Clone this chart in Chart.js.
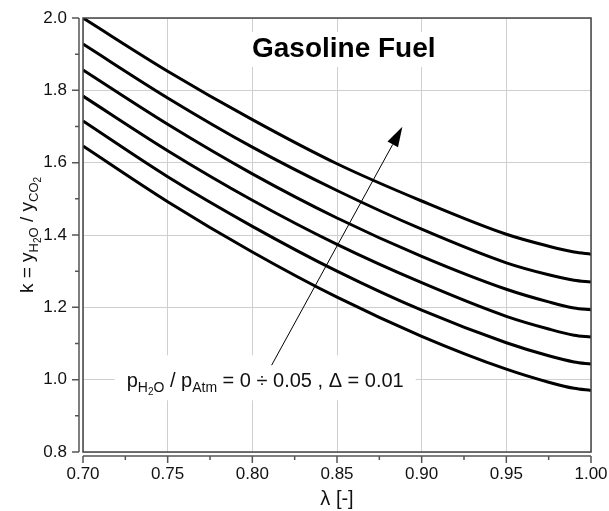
<!DOCTYPE html>
<html>
<head>
<meta charset="utf-8">
<script src="https://cdn.jsdelivr.net/npm/chart.js@4/dist/chart.umd.min.js"></script>
<style>
  html, body { margin: 0; background: #fff; }
  #wrap { width: 609px; height: 511px; position: relative; }
</style>
</head>
<body>
<div id="wrap"><canvas id="chart"></canvas></div>
<script>
const LAMBDA = [0.70, 0.75, 0.80, 0.85, 0.90, 0.95, 0.975, 0.99, 1.00];

// k = yH2O / yCO2 for pH2O/pAtm = 0 ... 0.05
const K_P000 = [1.646, 1.492, 1.353, 1.228, 1.120, 1.029, 0.993, 0.976, 0.970];
const K_P001 = [1.715, 1.561, 1.424, 1.300, 1.192, 1.102, 1.066, 1.049, 1.043];
const K_P002 = [1.784, 1.633, 1.496, 1.374, 1.268, 1.175, 1.140, 1.123, 1.118];
const K_P003 = [1.856, 1.706, 1.569, 1.447, 1.341, 1.250, 1.215, 1.198, 1.193];
const K_P004 = [1.928, 1.779, 1.643, 1.523, 1.416, 1.323, 1.290, 1.275, 1.270];
const K_P005 = [2.000, 1.853, 1.719, 1.597, 1.494, 1.402, 1.369, 1.353, 1.347];

const X_TICKS = [0.70, 0.75, 0.80, 0.85, 0.90, 0.95, 1.00];
const Y_TICKS = [0.8, 1.0, 1.2, 1.4, 1.6, 1.8, 2.0];

const FONT = "'Liberation Sans', Arial, sans-serif";

const series = [K_P000, K_P001, K_P002, K_P003, K_P004, K_P005];
const datasets = series.map(vals => ({
  data: LAMBDA.map((x, i) => ({ x, y: vals[i] })),
  borderColor: '#000',
  borderWidth: 3,
  pointRadius: 0,
  fill: false,
  cubicInterpolationMode: 'monotone',
}));

// text runs with sub/subsub scripts
function richWidth(ctx, parts) {
  let w = 0;
  parts.forEach(p => {
    ctx.font = `${p.s}px ${FONT}`;
    w += ctx.measureText(p.t).width;
  });
  return w;
}
function drawRich(ctx, parts, x, y) {
  let cx = x;
  parts.forEach(p => {
    ctx.font = `${p.s}px ${FONT}`;
    ctx.fillText(p.t, cx, y + (p.dy || 0));
    cx += ctx.measureText(p.t).width;
  });
}

const LABEL_PARTS = [
  { t: 'p', s: 20 }, { t: 'H', s: 14, dy: 5 }, { t: '2', s: 10, dy: 8 }, { t: 'O', s: 14, dy: 5 },
  { t: ' / p', s: 20 }, { t: 'Atm', s: 14, dy: 5 },
  { t: ' = 0 \u00f7 0.05 , \u0394 = 0.01', s: 20 },
];
const YTITLE_PARTS = [
  { t: 'k = y', s: 19 }, { t: 'H', s: 13, dy: 5 }, { t: '2', s: 10, dy: 8 }, { t: 'O', s: 13, dy: 5 },
  { t: ' / y', s: 19 }, { t: 'CO', s: 13, dy: 5 }, { t: '2', s: 10, dy: 8 },
];

const TITLE_FONT = `bold 28px ${FONT}`;

const decor = {
  id: 'decor',
  beforeDatasetsDraw(chart) {
    const { ctx } = chart;
    const xs = chart.scales.x, ys = chart.scales.y;
    ctx.save();
    ctx.fillStyle = '#fff';
    // box behind the title
    ctx.font = TITLE_FONT;
    const tw = ctx.measureText('Gasoline Fuel').width;
    const tx = xs.getPixelForValue(0.854), ty = ys.getPixelForValue(1.892);
    ctx.fillRect(tx - tw / 2 - 6, ty - 25, tw + 12, 35);
    // box behind the parameter label
    const lx = xs.getPixelForValue(0.7258), ly = ys.getPixelForValue(0.979);
    const lw = richWidth(ctx, LABEL_PARTS);
    ctx.fillRect(lx - 12, ly - 32, lw + 24, 45);
    ctx.restore();
  },
  afterDatasetsDraw(chart) {
    const { ctx, chartArea: a } = chart;
    const xs = chart.scales.x, ys = chart.scales.y;
    ctx.save();
    // plot frame
    ctx.strokeStyle = '#444';
    ctx.lineWidth = 1.5;
    ctx.strokeRect(a.left, a.top, a.right - a.left, a.bottom - a.top);

    // detached axis lines with ticks
    const axX = a.left - 4, axY = a.bottom + 4;
    ctx.strokeStyle = '#555';
    ctx.lineWidth = 1.5;
    ctx.beginPath();
    ctx.moveTo(axX, a.top); ctx.lineTo(axX, a.bottom);
    ctx.moveTo(a.left, axY); ctx.lineTo(a.right, axY);
    Y_TICKS.forEach((v, i) => {
      const py = ys.getPixelForValue(v);
      ctx.moveTo(axX, py); ctx.lineTo(axX - 7, py);
      if (i < Y_TICKS.length - 1) {
        const my = ys.getPixelForValue((v + Y_TICKS[i + 1]) / 2);
        ctx.moveTo(axX, my); ctx.lineTo(axX - 4, my);
      }
    });
    X_TICKS.forEach((v, i) => {
      const px = xs.getPixelForValue(v);
      ctx.moveTo(px, axY); ctx.lineTo(px, axY + 7);
      if (i < X_TICKS.length - 1) {
        const mx = xs.getPixelForValue((v + X_TICKS[i + 1]) / 2);
        ctx.moveTo(mx, axY); ctx.lineTo(mx, axY + 4);
      }
    });
    ctx.stroke();

    // arrow
    const x0 = xs.getPixelForValue(0.8114), y0 = ys.getPixelForValue(1.04);
    const x1 = xs.getPixelForValue(0.8886), y1 = ys.getPixelForValue(1.699);
    const ang = Math.atan2(y1 - y0, x1 - x0);
    const hl = 20, hw = 6;
    const bx = x1 - hl * Math.cos(ang), by = y1 - hl * Math.sin(ang);
    ctx.strokeStyle = '#000';
    ctx.lineWidth = 1;
    ctx.beginPath();
    ctx.moveTo(x0, y0); ctx.lineTo(bx, by);
    ctx.stroke();
    ctx.fillStyle = '#000';
    ctx.beginPath();
    ctx.moveTo(x1, y1);
    ctx.lineTo(bx - hw * Math.sin(ang), by + hw * Math.cos(ang));
    ctx.lineTo(bx + hw * Math.sin(ang), by - hw * Math.cos(ang));
    ctx.closePath();
    ctx.fill();

    // title
    ctx.fillStyle = '#000';
    ctx.textAlign = 'center';
    ctx.textBaseline = 'alphabetic';
    ctx.font = TITLE_FONT;
    ctx.fillText('Gasoline Fuel', xs.getPixelForValue(0.854), ys.getPixelForValue(1.892));

    // parameter label
    ctx.textAlign = 'left';
    ctx.fillStyle = '#111';
    drawRich(ctx, LABEL_PARTS, xs.getPixelForValue(0.7258), ys.getPixelForValue(0.979));

    // y axis title (rotated)
    const yw = richWidth(ctx, YTITLE_PARTS);
    ctx.save();
    ctx.translate(33, (a.top + a.bottom) / 2);
    ctx.rotate(-Math.PI / 2);
    drawRich(ctx, YTITLE_PARTS, -yw / 2, 0);
    ctx.restore();

    // x axis title
    ctx.textAlign = 'center';
    ctx.font = `20px ${FONT}`;
    ctx.fillText('\u03bb [-]', (a.left + a.right) / 2, 505);
    ctx.restore();
  },
};

new Chart(document.getElementById('chart'), {
  type: 'line',
  data: { datasets },
  options: {
    responsive: true,
    maintainAspectRatio: false,
    animation: false,
    layout: { padding: { left: 0, top: 18, right: 18, bottom: 0 } },
    plugins: { legend: { display: false }, tooltip: { enabled: false } },
    scales: {
      x: {
        type: 'linear',
        min: 0.70, max: 1.00,
        afterBuildTicks: s => { s.ticks = X_TICKS.map(v => ({ value: v })); },
        afterFit: s => { s.height = 59; s.paddingLeft = 0; s.paddingRight = 0; },
        border: { display: false },
        grid: { color: '#cfcfcf', lineWidth: 1, drawTicks: false },
        ticks: {
          color: '#111', padding: 12,
          font: { family: FONT, size: 17 },
          maxRotation: 0,
          callback: v => v.toFixed(2),
        },
      },
      y: {
        type: 'linear',
        min: 0.8, max: 2.0,
        afterBuildTicks: s => { s.ticks = Y_TICKS.map(v => ({ value: v })); },
        afterFit: s => { s.width = 83; s.paddingTop = 0; s.paddingBottom = 0; },
        border: { display: false },
        grid: { color: '#cfcfcf', lineWidth: 1, drawTicks: false },
        ticks: {
          color: '#111', padding: 16,
          font: { family: FONT, size: 17 },
          callback: v => v.toFixed(1),
        },
      },
    },
  },
  plugins: [decor],
});
</script>
</body>
</html>
